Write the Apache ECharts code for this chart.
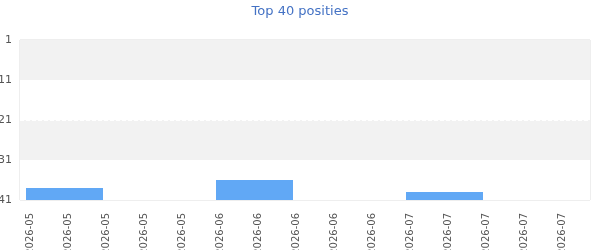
<!DOCTYPE html>
<html>
<head>
<meta charset="utf-8">
<script src="https://cdn.jsdelivr.net/npm/echarts@6/dist/echarts.min.js"></script>
<style>html,body{margin:0;padding:0;background:#fff}#c{width:600px;height:250px}</style>
</head>
<body>
<div id="c"></div>
<script>
// Week labels (x axis)
const weeks = ['2026-05','2026-05','2026-05','2026-05','2026-05',
               '2026-06','2026-06','2026-06','2026-06','2026-06',
               '2026-07','2026-07','2026-07','2026-07','2026-07'];
// Chart position per week (null = not in the Top 40)
const positions = [null, 38, null, null, null, null, 36, null, null, null, null, 39, null, null, null];
// Second (empty) series slot
const otherPositions = [null, null, null, null, null, null, null, null, null, null, null, null, null, null, null];
const lowest = 41;
const yTicks = [41, 31, 21, 11, 1];

const toHeight = p => (p == null ? null : lowest - p);

const chart = echarts.init(document.getElementById('c'));
chart.setOption({
  animation: false,
  title: {
    text: 'Top 40 posities',
    left: 'center',
    top: 0,
    textStyle: { color: '#4472C4', fontSize: 13, fontWeight: 'normal', fontFamily: 'DejaVu Sans' }
  },
  grid: {
    left: 20, right: 10, top: 40, bottom: 50,
    containLabel: false,
    outerBoundsMode: 'none',
    show: true, borderColor: '#dddddd', borderWidth: 1, backgroundColor: 'transparent'
  },
  xAxis: {
    type: 'category',
    data: weeks,
    boundaryGap: true,
    axisLine: { show: false },
    axisTick: { show: false },
    axisLabel: {
      rotate: 90,
      interval: 0,
      margin: 13,
      color: '#555',
      fontSize: 10,
      fontFamily: 'DejaVu Sans',
      verticalAlign: 'bottom',
      lineHeight: 18
    },
    splitLine: { show: false }
  },
  yAxis: {
    type: 'value',
    min: 0,
    max: lowest - 1,
    interval: 10,
    axisLine: { show: false },
    axisTick: { show: false },
    axisLabel: {
      color: '#555',
      fontSize: 11,
      fontFamily: 'DejaVu Sans',
      margin: 8,
      formatter: v => String(yTicks[v / 10])
    },
    splitLine: { show: true, showMinLine: false, showMaxLine: false, lineStyle: { color: '#ffffff', type: 'dashed', width: 1 } },
    splitArea: { show: true, areaStyle: { color: ['#ffffff', '#f2f2f2'] } }
  },
  series: [
    {
      name: 'Top 40',
      type: 'bar',
      data: positions.map(toHeight),
      barWidth: 77,
      barGap: '0%',
      itemStyle: { color: '#61a8f5' }
    },
    {
      name: 'Overig',
      type: 'bar',
      data: otherPositions.map(toHeight),
      barWidth: 25,
      itemStyle: { color: '#f5a461' }
    }
  ]
});
</script>
</body>
</html>
